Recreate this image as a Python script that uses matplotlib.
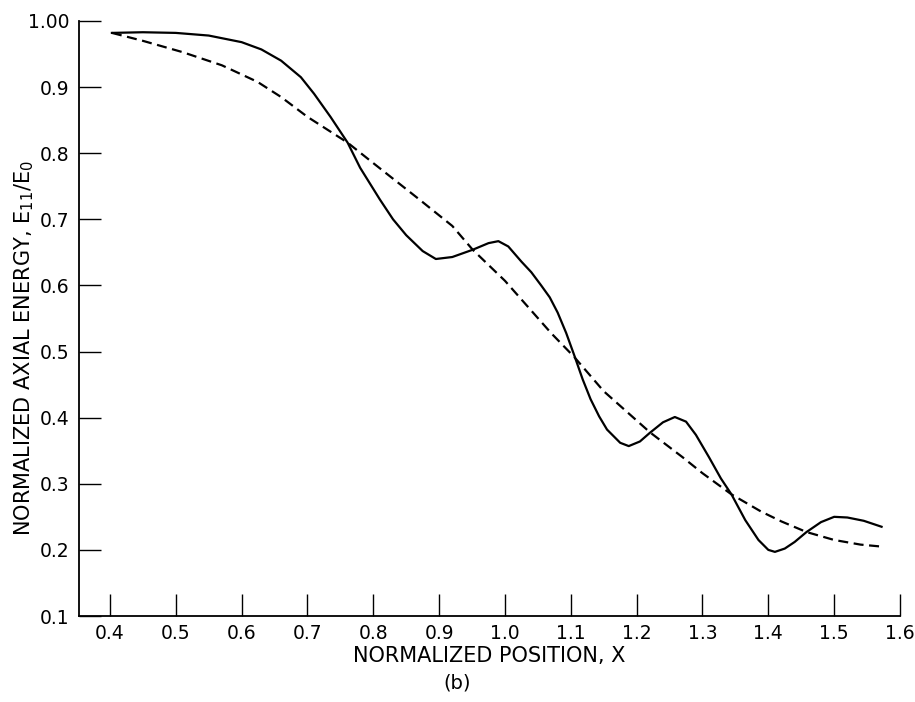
import matplotlib
matplotlib.use("Agg")
import matplotlib.pyplot as plt

# valores (posição normalizada x energia axial normalizada)
x_solida = [0.403, 0.45, 0.50, 0.55, 0.60, 0.63, 0.66, 0.69, 0.71, 0.735, 0.761,
            0.78, 0.81, 0.83, 0.85, 0.875, 0.895, 0.92, 0.951, 0.975, 0.99, 1.005,
            1.025, 1.04, 1.055, 1.068, 1.08, 1.093, 1.105, 1.118, 1.13, 1.143, 1.155,
            1.175, 1.188, 1.205, 1.22, 1.24, 1.258, 1.275, 1.29, 1.31, 1.328, 1.344,
            1.365, 1.385, 1.40, 1.41, 1.425, 1.44, 1.458, 1.48, 1.50, 1.52, 1.545, 1.572]
y_solida = [0.982, 0.983, 0.982, 0.978, 0.968, 0.957, 0.940, 0.915, 0.890, 0.855, 0.816,
            0.778, 0.730, 0.700, 0.676, 0.652, 0.640, 0.643, 0.654, 0.664, 0.667, 0.659,
            0.636, 0.620, 0.600, 0.582, 0.559, 0.528, 0.495, 0.458, 0.428, 0.402, 0.382,
            0.362, 0.357, 0.364, 0.377, 0.393, 0.401, 0.394, 0.374, 0.340, 0.308, 0.284,
            0.245, 0.215, 0.200, 0.197, 0.202, 0.212, 0.227, 0.242, 0.250, 0.249, 0.244,
            0.235]

x_tracejada = [0.403, 0.45, 0.51, 0.57, 0.624, 0.66, 0.70, 0.761, 0.80, 0.87, 0.92,
               0.951, 1.0, 1.039, 1.07, 1.105, 1.15, 1.22, 1.27, 1.30, 1.344, 1.389,
               1.42, 1.458, 1.50, 1.54, 1.572]
y_tracejada = [0.982, 0.970, 0.953, 0.933, 0.908, 0.885, 0.855, 0.816, 0.785, 0.730, 0.690,
               0.654, 0.607, 0.563, 0.528, 0.492, 0.440, 0.378, 0.340, 0.316, 0.284, 0.258,
               0.243, 0.227, 0.215, 0.208, 0.205]

xticks = [0.4, 0.5, 0.6, 0.7, 0.8, 0.9, 1.0, 1.1, 1.2, 1.3, 1.4, 1.5, 1.6]
xtick_labels = ["0.4", "0.5", "0.6", "0.7", "0.8", "0.9", "1.0", "1.1", "1.2",
                "1.3", "1.4", "1.5", "1.6"]
yticks = [0.1, 0.2, 0.3, 0.4, 0.5, 0.6, 0.7, 0.8, 0.9, 1.0]
ytick_labels = ["0.1", "0.2", "0.3", "0.4", "0.5", "0.6", "0.7", "0.8", "0.9", "1.00"]

fig = plt.figure(figsize=(9.15, 7.02), dpi=100)
ax = fig.add_axes([79 / 915, 1 - 616 / 702, (900 - 79) / 915, (616 - 21) / 702])

ax.plot(x_solida, y_solida, color="black", lw=1.6, solid_joinstyle="round")
ax.plot(x_tracejada, y_tracejada, color="black", lw=1.6, linestyle=(0, (4.5, 2.5)))

ax.set_xlim(0.353, 1.6)
ax.set_ylim(0.1, 1.0)
ax.set_xticks(xticks)
ax.set_xticklabels(xtick_labels)
ax.set_yticks(yticks)
ax.set_yticklabels(ytick_labels)

for lado in ("top", "right"):
    ax.spines[lado].set_visible(False)
for lado in ("left", "bottom"):
    ax.spines[lado].set_linewidth(1.3)

ax.tick_params(direction="in", length=16, width=1.0, labelsize=13.5, pad=6)
ax.tick_params(axis="y", pad=7)

ax.set_xlabel("NORMALIZED POSITION, X", fontsize=15)
ax.xaxis.set_label_coords(0.5, -0.05)
ax.set_ylabel("NORMALIZED AXIAL ENERGY, E$_{11}$/E$_{0}$", fontsize=15)
ax.yaxis.set_label_coords(-0.052, 0.45)
fig.text(457 / 915, 1 - 683 / 702, "(b)", fontsize=14, ha="center", va="center")

plt.savefig("out.png", dpi=100)
